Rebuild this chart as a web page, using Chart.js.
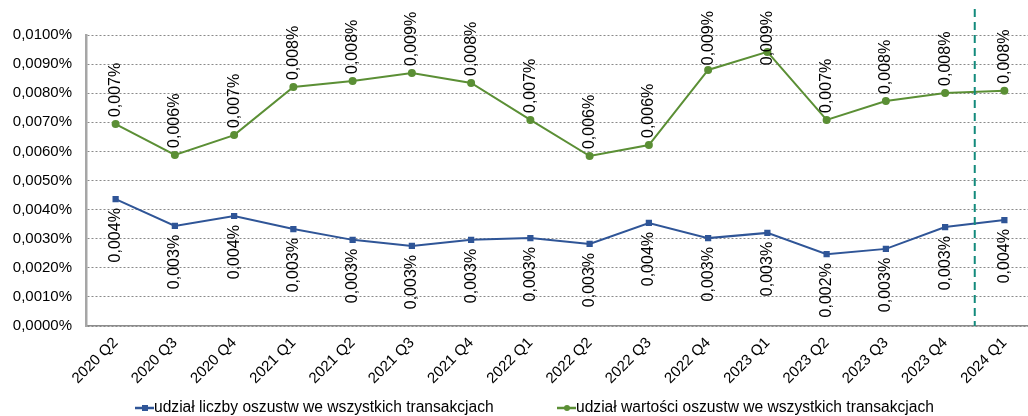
<!DOCTYPE html>
<html>
<head>
<meta charset="utf-8">
<script src="https://cdn.jsdelivr.net/npm/chart.js@4.4.1/dist/chart.umd.min.js"></script>
<style>
  html, body { margin: 0; padding: 0; background: #fff; overflow: hidden; }
  #wrap { width: 1028px; height: 416px; overflow: hidden; position: relative; }
  #box { width: 1040px; height: 416px; position: absolute; left: 0; top: 0; }
</style>
</head>
<body>
<div id="wrap"><div id="box"><canvas id="chart"></canvas></div></div>
<script>
// --- Data ---
const quarters = ['2020 Q2', '2020 Q3', '2020 Q4', '2021 Q1', '2021 Q2', '2021 Q3', '2021 Q4', '2022 Q1',
  '2022 Q2', '2022 Q3', '2022 Q4', '2023 Q1', '2023 Q2', '2023 Q3', '2023 Q4', '2024 Q1'];
// values in percent
const countShare = [0.00436, 0.00344, 0.00378, 0.00333, 0.00296, 0.00275, 0.00296, 0.00302,
  0.00282, 0.00354, 0.00302, 0.00320, 0.00247, 0.00265, 0.00340, 0.00364];
const valueShare = [0.00694, 0.00588, 0.00656, 0.00821, 0.00842, 0.00869, 0.00835, 0.00708,
  0.00584, 0.00622, 0.00880, 0.00942, 0.00708, 0.00773, 0.00801, 0.00808];
const countLabel = 'udział liczby oszustw we wszystkich transakcjach';
const valueLabel = 'udział wartości oszustw we wszystkich transakcjach';
const markerAfter = '2023 Q4'; // dashed separator drawn between this and the next quarter

const FONT = '"Liberation Sans", Arial, sans-serif';
const BLUE = '#2f5597';
const GREEN = '#5b8f35';
const TEAL = '#138a7c';

const fmtPct = (v, d) => v.toFixed(d).replace('.', ',') + '%';

// rotated value labels above (green) / below (blue) the points
const valueLabels = {
  id: 'valueLabels',
  afterDatasetsDraw(chart) {
    const ctx = chart.ctx;
    ctx.save();
    ctx.font = '16px ' + FONT;
    ctx.fillStyle = '#000';
    ctx.textBaseline = 'middle';
    chart.data.datasets.forEach((ds, i) => {
      const meta = chart.getDatasetMeta(i);
      meta.data.forEach((pt, j) => {
        const txt = fmtPct(ds.data[j], 3);
        const w = ctx.measureText(txt).width;
        ctx.save();
        ctx.translate(pt.x, pt.y);
        ctx.rotate(-Math.PI / 2);
        if (ds.labelPos === 'above') {
          let start = 7;
          const top = pt.y - start - w;
          if (top < 11) start -= (11 - top);
          ctx.textAlign = 'left';
          ctx.fillText(txt, start, 0);
        } else {
          ctx.textAlign = 'right';
          ctx.fillText(txt, -9, 0);
        }
        ctx.restore();
      });
    });
    ctx.restore();
  }
};

// dashed vertical separator
const separator = {
  id: 'separator',
  afterDatasetsDraw(chart) {
    const x = chart.scales.x;
    const i = quarters.indexOf(markerAfter);
    const px = (x.getPixelForValue(i) + x.getPixelForValue(i + 1)) / 2;
    const ctx = chart.ctx;
    ctx.save();
    ctx.strokeStyle = TEAL;
    ctx.lineWidth = 2;
    ctx.setLineDash([8, 5]);
    ctx.beginPath();
    ctx.moveTo(px, 9);
    ctx.lineTo(px, chart.chartArea.bottom);
    ctx.stroke();
    ctx.restore();
  }
};

// legend: line with marker + text
const legendRow = {
  id: 'legendRow',
  afterDraw(chart) {
    const ctx = chart.ctx;
    const y = 408;
    const starts = [135, 557];
    ctx.save();
    ctx.font = '15.6px ' + FONT;
    ctx.textBaseline = 'middle';
    chart.data.datasets.forEach((ds, i) => {
      const x0 = starts[i];
      ctx.strokeStyle = ds.borderColor;
      ctx.lineWidth = 2.5;
      ctx.beginPath();
      ctx.moveTo(x0, y);
      ctx.lineTo(x0 + 19, y);
      ctx.stroke();
      ctx.fillStyle = ds.borderColor;
      if (ds.pointStyle === 'rect') {
        ctx.fillRect(x0 + 7, y - 3, 6, 6);
      } else {
        ctx.beginPath();
        ctx.arc(x0 + 10, y, 3, 0, Math.PI * 2);
        ctx.fill();
      }
      ctx.fillStyle = '#000';
      ctx.textAlign = 'left';
      ctx.fillText(ds.label, x0 + 19, y);
    });
    ctx.restore();
  }
};

new Chart(document.getElementById('chart'), {
  type: 'line',
  data: {
    labels: quarters,
    datasets: [
      { label: countLabel, data: countShare, borderColor: BLUE, backgroundColor: BLUE, borderWidth: 2,
        pointStyle: 'rect', pointRadius: 3, tension: 0, labelPos: 'below' },
      { label: valueLabel, data: valueShare, borderColor: GREEN, backgroundColor: GREEN, borderWidth: 2,
        pointStyle: 'circle', pointRadius: 3, tension: 0, labelPos: 'above' },
    ],
  },
  options: {
    responsive: true,
    maintainAspectRatio: false,
    animation: false,
    layout: { padding: { top: 35, right: 4, left: 0, bottom: 0 } },
    plugins: { legend: { display: false }, tooltip: { enabled: false } },
    scales: {
      x: {
        offset: true,
        grid: { display: false, drawTicks: false },
        border: { color: '#8c8c8c', width: 1.5 },
        ticks: { color: '#000', font: { family: FONT, size: 15 }, maxRotation: 45, minRotation: 45, padding: 8, autoSkip: false },
        afterFit: s => { s.height = 90; },
      },
      y: {
        min: 0,
        max: 0.01,
        grid: { color: '#8a8a8a', drawTicks: false, lineWidth: 1 },
        border: { color: '#a6a6a6', width: 2.5, dash: [2, 2] },
        ticks: { stepSize: 0.001, color: '#000', font: { family: FONT, size: 15 }, padding: 14,
          callback: v => fmtPct(v, 4) },
        afterFit: s => { s.width = 86; },
      },
    },
  },
  plugins: [valueLabels, separator, legendRow],
});
</script>
</body>
</html>
